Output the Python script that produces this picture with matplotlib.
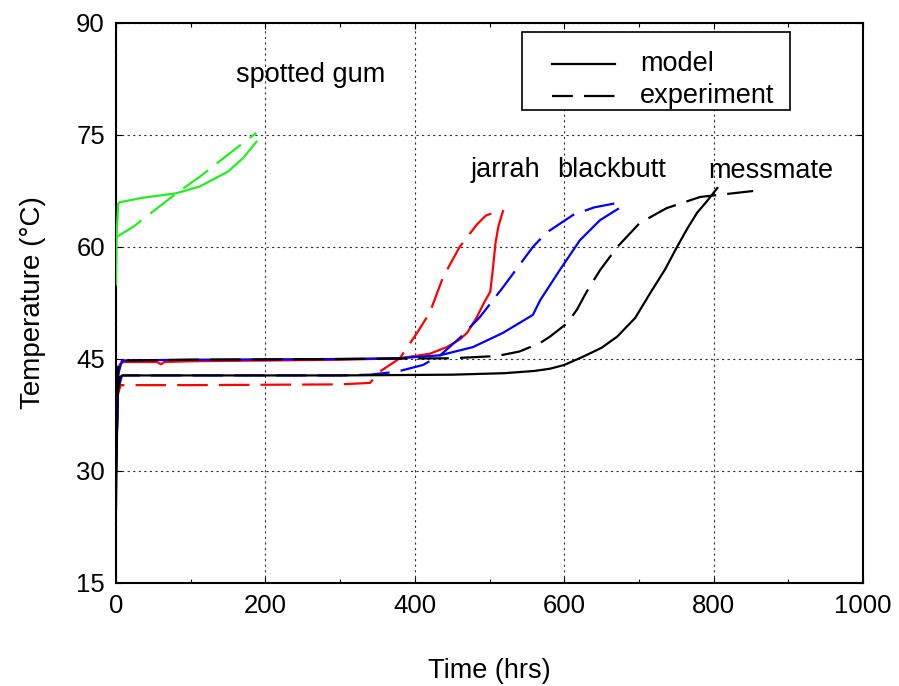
import matplotlib
matplotlib.use("Agg")
import matplotlib.pyplot as plt
from matplotlib.patches import Rectangle

plt.rcParams['font.family'] = ['Liberation Sans', 'DejaVu Sans']

# Spotted gum
sg_model_t = [0, 1, 3, 5, 36, 81, 112, 150, 170, 188]
sg_model_T = [55, 62, 65.8, 66.0, 66.6, 67.2, 68.1, 70.1, 71.9, 74.1]
sg_exp_t = [0, 23, 81, 112, 153, 188]
sg_exp_T = [61.3, 62.7, 67.2, 69.4, 72.6, 75.3]

# Jarrah
ja_model_t = [0, 2, 5, 10, 55, 60, 65, 100, 300, 380, 420, 443, 460, 470, 483, 493, 501, 505, 508, 512, 518]
ja_model_T = [38, 42, 44.3, 44.6, 44.6, 44.3, 44.6, 44.7, 44.9, 45.1, 45.7, 46.6, 47.6, 48.5, 50.6, 52.6, 54.0, 57.5, 60.5, 62.8, 64.8]
ja_exp_t = [0, 2, 6, 100, 300, 340, 353, 380, 403, 420, 438, 460, 483, 495, 511]
ja_exp_T = [38, 40, 41.5, 41.5, 41.6, 41.8, 43.3, 45.1, 48.5, 51.2, 56, 60, 63, 64.2, 64.8]

# Blackbutt
bb_model_t = [0, 3, 8, 100, 300, 380, 434, 478, 518, 558, 568, 581, 594, 621, 648, 672]
bb_model_T = [30, 43, 44.8, 44.9, 45, 45.1, 45.5, 46.6, 48.5, 50.9, 52.9, 54.9, 56.9, 60.9, 63.6, 65.1]
bb_exp_t = [0, 3, 8, 100, 300, 340, 376, 411, 434, 460, 487, 518, 558, 576, 612, 640, 671]
bb_exp_T = [30, 41, 42.8, 42.8, 42.8, 42.9, 43.3, 44.2, 45.5, 47.8, 50.6, 54.6, 60, 61.9, 64.3, 65.3, 65.9]

# Messmate
mm_model_t = [0, 2, 5, 10, 100, 300, 450, 520, 560, 581, 600, 625, 650, 671, 695, 715, 735, 751, 765, 778, 790, 805]
mm_model_T = [25, 40, 42.6, 42.8, 42.8, 42.8, 42.9, 43.1, 43.4, 43.7, 44.2, 45.3, 46.5, 48, 50.5, 53.8, 57, 60, 62.5, 64.6, 66, 67.9]
mm_exp_t = [0, 3, 8, 100, 300, 450, 510, 540, 567, 581, 604, 617, 630, 648, 671, 701, 737, 782, 853]
mm_exp_T = [40, 44, 44.8, 44.9, 45, 45.1, 45.4, 46, 47.1, 48, 49.8, 51.6, 54, 56.9, 60, 63.2, 65.2, 66.7, 67.5]

species = ["spotted gum", "jarrah", "blackbutt", "messmate"]
label_x = [261, 521, 663, 877]
label_y = [83, 70.3, 70.3, 70.2]

legend_labels = ["model", "experiment"]

xticks = [0, 200, 400, 600, 800, 1000]
yticks = [15, 30, 45, 60, 75, 90]

lw = 1.6
dash = (22 / lw, 8 / lw)

fig = plt.figure(figsize=(8.99, 6.86), dpi=100)
ax = fig.add_axes([116 / 899, 103 / 686, 747 / 899, 560 / 686])

series = [
    (sg_model_t, sg_model_T, sg_exp_t, sg_exp_T, '#22ee22'),
    (ja_model_t, ja_model_T, ja_exp_t, ja_exp_T, '#ff0000'),
    (bb_model_t, bb_model_T, bb_exp_t, bb_exp_T, '#0000ff'),
    (mm_model_t, mm_model_T, mm_exp_t, mm_exp_T, '#000000'),
]
for i, (mt, mT, et, eT, c) in enumerate(series):
    ax.plot(mt, mT, color=c, lw=lw, zorder=3 + i)
    ax.plot(et, eT, color=c, lw=lw, dashes=dash, zorder=3 + i)

for name, x, y in zip(species, label_x, label_y):
    ax.text(x, y, name, fontsize=19.5, ha='center', va='center', zorder=10)

ax.set_xlim(0, 1000)
ax.set_ylim(15, 90)
ax.set_xticks(xticks)
ax.set_yticks(yticks)
ax.set_xticks(range(100, 1000, 200), minor=True)
ax.tick_params(which='both', direction='in', top=True, right=True, labelsize=18.5)
ax.tick_params(which='major', length=4, width=0.8, pad=8)
ax.tick_params(which='minor', length=3, width=0.8)
ax.grid(True, which='major', color='#333333', linestyle=(0, (2, 3)), linewidth=0.8)
for s in ax.spines.values():
    s.set_linewidth(1.5)

ax.set_xlabel("Time (hrs)", fontsize=19.5, labelpad=29)
ax.set_ylabel("Temperature (\u00b0C)", fontsize=20, labelpad=22)

# Legend box drawn in axes coordinates
tr = ax.transAxes
ax.add_patch(Rectangle((0.5435, 0.8446), 0.3588, 0.1393, transform=tr,
                       facecolor='white', edgecolor='black', lw=1.2, zorder=20))
leg_styles = ['-', (7 / lw, dash)]
leg_y = [0.9268, 0.8696]
for lab, ls, y in zip(legend_labels, leg_styles, leg_y):
    ax.plot([0.5837, 0.6680], [y, y], transform=tr, color='black', lw=lw,
            linestyle=ls, zorder=21)
    ax.text(0.7015, y, lab, transform=tr, fontsize=19.5, ha='left',
            va='center', zorder=21)

fig.savefig("out.png", dpi=100)
